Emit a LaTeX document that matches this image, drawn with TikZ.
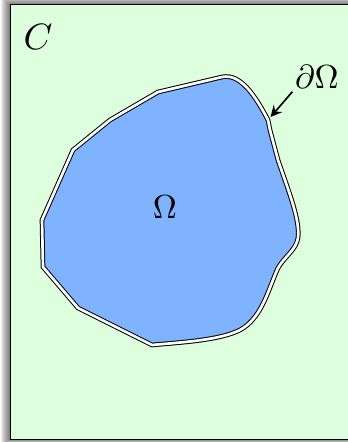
\documentclass[tikz,border=0pt]{standalone}
\usepackage{amsmath}
\usepackage{amssymb}
\usepackage{tikz}

\definecolor{bgreen}{RGB}{221,255,221}
\definecolor{dblue}{RGB}{128,179,255}

\begin{document}
\begin{tikzpicture}[x=0.3pt, y=-0.3pt, >=stealth]
        \useasboundingbox (0,0) rectangle (348,442);
        \clip (0,0) rectangle (348,442);

        % Bóng mờ của khung
        \foreach \k in {1,...,9}
            \fill[black, opacity=0.07] (10.5-\k,4.5-\k) rectangle (360,439.5+0.4*\k);

        % Khung C
        \draw[line width=0.45pt, fill=bgreen] (10.5,4.5) rectangle (360,439.5);
        \node[scale=1.1] (nodeC) at (38,37) {$C$};

        % Miền Omega và biên
        \draw[fill=dblue, line width=0.3pt, double=white, double distance=0.8pt]
            (152,345) -- (78,308) -- (43,267) -- (42,220) -- (73,150) -- (110,120)
            -- (158,92) -- (222,77)
            .. controls (240,73) and (255,95) .. (268,120) coordinate (tip)
            -- (270,130) -- (278,160)
            .. controls (290,195) and (300,220) .. (298,238)
            .. controls (296,250) and (285,256) .. (278,268)
            .. controls (268,290) and (262,318) .. (240,330)
            .. controls (220,340) and (185,342) .. (152,345) -- cycle;
        \node (nodeOmega) at (165,207) {$\Omega$};

        % Nhãn biên
        \node[inner sep=0pt] (nodeBoundary) at (317,77) {$\partial\Omega$};
        \draw[->, line width=0.5pt, shorten <=1pt, shorten >=1.2pt] (nodeBoundary.south west) -- (tip);
    \end{tikzpicture}
\end{document}
